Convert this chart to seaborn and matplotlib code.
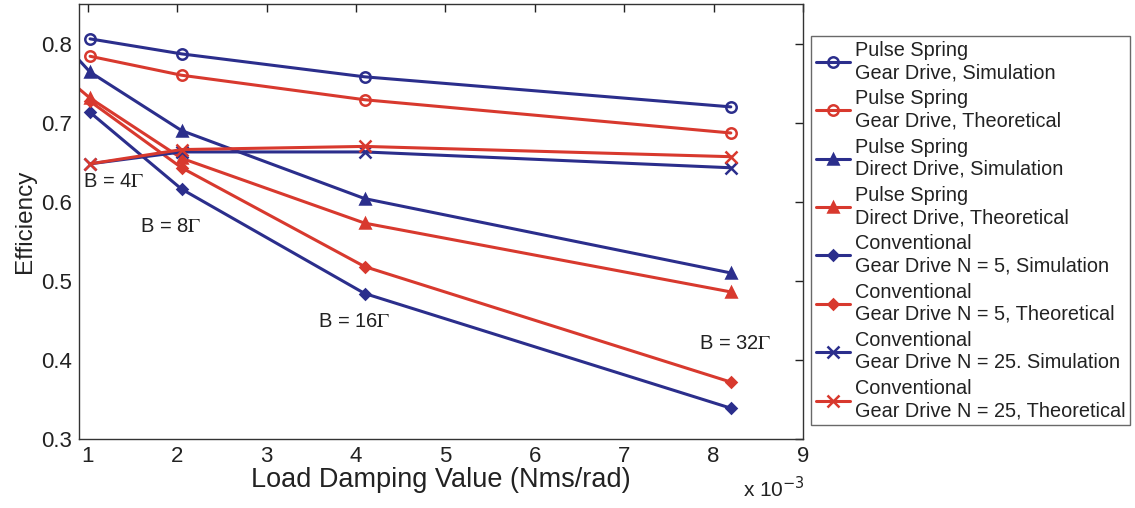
import numpy as np
import pandas as pd
import matplotlib
matplotlib.use("Agg")
import matplotlib.pyplot as plt
import seaborn as sns

# ---- data ----
x_vals = [1.024, 2.048, 4.096, 8.192]
x_direct = [0.512, 1.024, 2.048, 4.096, 8.192]

ps_gear_sim = [0.806, 0.787, 0.758, 0.720]
ps_gear_theo = [0.784, 0.760, 0.729, 0.687]
ps_direct_sim = [0.827, 0.764, 0.690, 0.604, 0.510]
ps_direct_theo = [0.780, 0.731, 0.655, 0.573, 0.486]
conv5_sim = [0.713, 0.616, 0.484, 0.339]
conv5_theo = [0.727, 0.643, 0.518, 0.372]
conv25_sim = [0.648, 0.663, 0.663, 0.643]
conv25_theo = [0.648, 0.666, 0.670, 0.657]

labels = [
    "Pulse Spring\nGear Drive, Simulation",
    "Pulse Spring\nGear Drive, Theoretical",
    "Pulse Spring\nDirect Drive, Simulation",
    "Pulse Spring\nDirect Drive, Theoretical",
    "Conventional\nGear Drive N = 5, Simulation",
    "Conventional\nGear Drive N = 5, Theoretical",
    "Conventional\nGear Drive N = 25. Simulation",
    "Conventional\nGear Drive N = 25, Theoretical",
]
annotations = ["B = 4$\\Gamma$", "B = 8$\\Gamma$", "B = 16$\\Gamma$", "B = 32$\\Gamma$"]
ann_pos = [(0.945, 0.626), (1.58, 0.569), (3.57, 0.448), (7.84, 0.421)]

BLUE = "#2b2e8c"
RED = "#d8392e"

series = [
    (x_vals, ps_gear_sim, BLUE, "o", dict(mfc="none", markersize=7.5)),
    (x_vals, ps_gear_theo, RED, "o", dict(mfc="none", markersize=7.5)),
    (x_direct, ps_direct_sim, BLUE, "^", dict(markersize=7.5)),
    (x_direct, ps_direct_theo, RED, "^", dict(markersize=7.5)),
    (x_vals, conv5_sim, BLUE, "D", dict(markersize=5.5)),
    (x_vals, conv5_theo, RED, "D", dict(markersize=5.5)),
    (x_vals, conv25_sim, BLUE, "x", dict(markersize=8)),
    (x_vals, conv25_theo, RED, "x", dict(markersize=8)),
]

sns.set_style("white")
plt.rcParams["font.family"] = ["Liberation Sans", "DejaVu Sans"]
plt.rcParams["mathtext.fontset"] = "stix"

fig = plt.figure(figsize=(11.35, 5.08), dpi=100)
ax = fig.add_axes([0.0696, 0.1358, 0.7075 - 0.0696, 0.992 - 0.1358])

for (xs, ys, col, mk, extra), lab in zip(series, labels):
    df = pd.DataFrame({"x": xs, "y": ys})
    sns.lineplot(data=df, x="x", y="y", ax=ax, color=col, marker=mk,
                 markeredgewidth=1.8, markeredgecolor=col,
                 linewidth=2.2, label=lab, **extra)

for txt, (tx, ty) in zip(annotations, ann_pos):
    ax.text(tx, ty, txt, fontsize=14.5, color="#222222", va="center", ha="left")

ax.set_xlim(0.9, 9)
ax.set_ylim(0.3, 0.85)
ax.set_xticks(range(1, 10))
ax.set_yticks([0.3, 0.4, 0.5, 0.6, 0.7, 0.8])
ax.set_yticklabels(["0.3", "0.4", "0.5", "0.6", "0.7", "0.8"])
ax.tick_params(direction="in", top=True, right=True, length=6, width=1,
               labelsize=16, colors="#222222", pad=5)
for sp in ax.spines.values():
    sp.set_visible(True)
    sp.set_color("#333333")
    sp.set_linewidth(1.0)

ax.set_xlabel("Load Damping Value (Nms/rad)", fontsize=19.5, color="#222222", labelpad=0)
ax.set_ylabel("Efficiency", fontsize=17.5, color="#222222", labelpad=4)
fig.text(0.655, 0.022, "x 10$^{-3}$", fontsize=15, color="#222222",
         math_fontfamily="dejavusans")

leg = ax.legend(loc="upper left", bbox_to_anchor=(0.7145, 0.929),
                bbox_transform=fig.transFigure, fontsize=14.3, frameon=True,
                fancybox=False, edgecolor="#444444", handlelength=1.7,
                handletextpad=0.25, labelspacing=0.37, borderpad=0.25,
                borderaxespad=0)
leg.get_frame().set_linewidth(1.0)
for t in leg.get_texts():
    t.set_color("#222222")

fig.savefig("out.png", dpi=100)
